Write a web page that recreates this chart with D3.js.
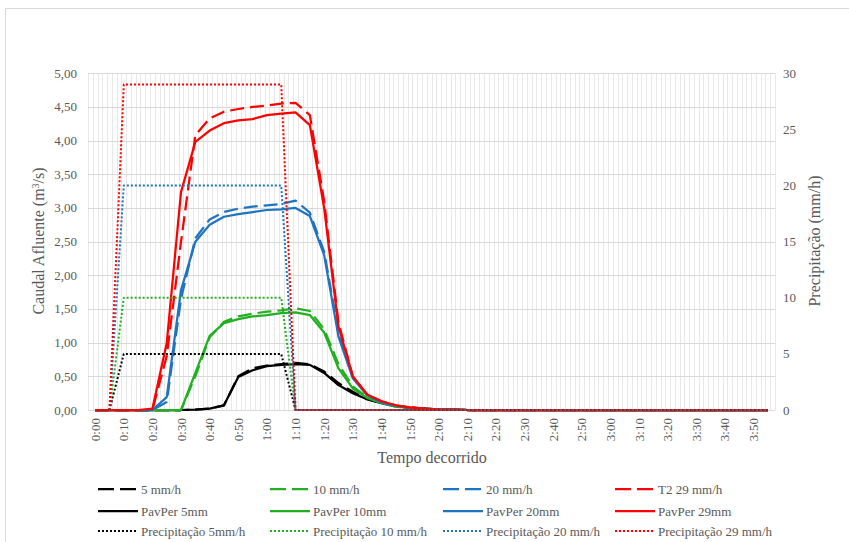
<!DOCTYPE html>
<html>
<head>
<meta charset="utf-8">
<title>Caudal afluente e precipitação</title>
<style>
  body { margin: 0; background: #fff; }
  svg text { font-family: "Liberation Serif", "Times New Roman", serif; fill: #595959; }
</style>
</head>
<body>
<script src="https://cdn.jsdelivr.net/npm/d3@7"></script>
<script>
// data (minutes since start)
var flowTimes = [0, 5, 10, 15, 20, 25, 30, 35, 40, 45, 50, 55, 60, 65, 70, 75, 80, 85, 90, 95, 100, 105, 110, 115, 120, 125, 130, 235];

var dash5   = [0, 0, 0, 0, 0, 0, 0, 0.005, 0.02, 0.07, 0.50, 0.62, 0.66, 0.68, 0.70, 0.68, 0.57, 0.40, 0.27, 0.16, 0.10, 0.06, 0.03, 0.02, 0.01, 0.005, 0, 0];
var dash10  = [0, 0, 0, 0, 0, 0, 0, 0.50, 1.08, 1.31, 1.39, 1.43, 1.46, 1.48, 1.51, 1.47, 1.20, 0.68, 0.35, 0.19, 0.10, 0.05, 0.03, 0.015, 0.008, 0.004, 0, 0];
var dash20  = [0, 0, 0, 0, 0, 0.12, 1.65, 2.55, 2.83, 2.94, 2.99, 3.02, 3.04, 3.06, 3.11, 2.93, 2.35, 1.15, 0.50, 0.23, 0.12, 0.06, 0.03, 0.015, 0.008, 0.004, 0, 0];
var dash29  = [0, 0, 0, 0, 0, 0.80, 2.50, 4.08, 4.33, 4.43, 4.47, 4.50, 4.52, 4.55, 4.56, 4.38, 3.10, 1.30, 0.50, 0.23, 0.13, 0.07, 0.04, 0.02, 0.01, 0.005, 0, 0];

var pav5    = [0, 0, 0, 0, 0, 0, 0, 0.005, 0.02, 0.07, 0.49, 0.59, 0.65, 0.67, 0.68, 0.67, 0.55, 0.37, 0.25, 0.16, 0.10, 0.06, 0.035, 0.02, 0.01, 0.005, 0, 0];
var pav10   = [0, 0, 0, 0, 0, 0, 0, 0.55, 1.10, 1.29, 1.35, 1.39, 1.41, 1.44, 1.45, 1.41, 1.15, 0.62, 0.32, 0.18, 0.10, 0.05, 0.03, 0.015, 0.008, 0.004, 0, 0];
var pav20   = [0, 0, 0, 0, 0, 0.19, 1.78, 2.50, 2.75, 2.87, 2.91, 2.94, 2.97, 2.98, 3.00, 2.88, 2.30, 1.09, 0.47, 0.22, 0.11, 0.06, 0.03, 0.015, 0.008, 0.004, 0, 0];
var pav29   = [0, 0, 0, 0, 0.02, 0.99, 3.24, 3.98, 4.15, 4.26, 4.30, 4.32, 4.38, 4.40, 4.42, 4.23, 3.00, 1.24, 0.50, 0.23, 0.13, 0.07, 0.04, 0.02, 0.01, 0.005, 0, 0];

var precipTimes = [5, 10, 65, 70, 235];
var precip5  = [0, 5, 5, 0, 0];
var precip10 = [0, 10, 10, 0, 0];
var precip20 = [0, 20, 20, 0, 0];
var precip29 = [0, 29, 29, 0, 0];

var xTickLabels = ["0:00","0:10","0:20","0:30","0:40","0:50","1:00","1:10","1:20","1:30","1:40","1:50",
                   "2:00","2:10","2:20","2:30","2:40","2:50","3:00","3:10","3:20","3:30","3:40","3:50"];
var leftTicks = [0, 0.5, 1, 1.5, 2, 2.5, 3, 3.5, 4, 4.5, 5];
var rightTicks = [0, 5, 10, 15, 20, 25, 30];

var black = "#000000", green = "#22b022", blue = "#1f74c0", red = "#ff0000";

// series in drawing order
var series = [
  { name: "5 mm/h",  t: flowTimes, v: dash5,  color: black, style: "dash", axis: "L" },
  { name: "10 mm/h", t: flowTimes, v: dash10, color: green, style: "dash", axis: "L" },
  { name: "20 mm/h", t: flowTimes, v: dash20, color: blue,  style: "dash", axis: "L" },
  { name: "T2 29 mm/h", t: flowTimes, v: dash29, color: red, style: "dash", axis: "L" },
  { name: "PavPer 5mm",  t: flowTimes, v: pav5,  color: black, style: "solid", axis: "L" },
  { name: "PavPer 10mm", t: flowTimes, v: pav10, color: green, style: "solid", axis: "L" },
  { name: "PavPer 20mm", t: flowTimes, v: pav20, color: blue,  style: "solid", axis: "L" },
  { name: "PavPer 29mm", t: flowTimes, v: pav29, color: red,   style: "solid", axis: "L" },
  { name: "Precipitação 5mm/h",   t: precipTimes, v: precip5,  color: black, style: "dot", axis: "R" },
  { name: "Precipitação 10 mm/h", t: precipTimes, v: precip10, color: green, style: "dot", axis: "R" },
  { name: "Precipitação 20 mm/h", t: precipTimes, v: precip20, color: blue,  style: "dot", axis: "R" },
  { name: "Precipitação 29 mm/h", t: precipTimes, v: precip29, color: red,   style: "dot", axis: "R" }
];

var dashes = { dash: "14,6", solid: null, dot: "2,2" };
var widths = { dash: 2.25, solid: 2.25, dot: 2 };

var W = 849, H = 542;
var plotL = 88, plotR = 775, plotT = 73.3, plotB = 410;

var svg = d3.select("body").append("svg").attr("width", W).attr("height", H);

// outer chart frame
svg.append("rect").attr("x", 5.5).attr("y", 8.5).attr("width", 900).attr("height", 600)
   .attr("fill", "none").attr("stroke", "#d9d9d9");

var x = d3.scaleLinear().domain([-2.5, 237.5]).range([plotL, plotR]);
var yL = d3.scaleLinear().domain([0, 5]).range([plotB, plotT]);
var yR = d3.scaleLinear().domain([0, 30]).range([plotB, plotT]);

// vertical gridlines (light)
var vgrid = d3.range(0, 145).map(function (k) { return -2.5 + k * 5 / 3; });
svg.append("g").selectAll("line").data(vgrid).enter().append("line")
   .attr("x1", function (d) { return Math.round(x(d)) + 0.5; })
   .attr("x2", function (d) { return Math.round(x(d)) + 0.5; })
   .attr("y1", plotT).attr("y2", plotB)
   .attr("stroke", "#e8e8e8").attr("stroke-width", 1);

// horizontal gridlines
svg.append("g").selectAll("line").data(leftTicks).enter().append("line")
   .attr("x1", plotL).attr("x2", plotR)
   .attr("y1", function (d) { return Math.round(yL(d)) + 0.5; })
   .attr("y2", function (d) { return Math.round(yL(d)) + 0.5; })
   .attr("stroke", "#d9d9d9").attr("stroke-width", 1);

// left axis labels
var fmt = d3.format(".2f");
svg.append("g").selectAll("text").data(leftTicks).enter().append("text")
   .attr("x", 77).attr("y", function (d) { return yL(d) + 4.5; })
   .attr("text-anchor", "end").attr("font-size", 13)
   .text(function (d) { return fmt(d).replace(".", ","); });

// right axis labels
svg.append("g").selectAll("text").data(rightTicks).enter().append("text")
   .attr("x", 783).attr("y", function (d) { return yR(d) + 4.5; })
   .attr("text-anchor", "start").attr("font-size", 13)
   .text(function (d) { return d; });

// x axis labels, rotated
svg.append("g").selectAll("text").data(xTickLabels).enter().append("text")
   .attr("transform", function (d, i) { return "translate(" + (x(i * 10) + 4.5) + ",418) rotate(-90)"; })
   .attr("text-anchor", "end").attr("font-size", 13)
   .text(function (d) { return d; });

// axis titles
svg.append("text").attr("transform", "translate(44,241) rotate(-90)")
   .attr("text-anchor", "middle").attr("font-size", 16)
   .html("Caudal Afluente (m<tspan baseline-shift='super' font-size='10'>3</tspan>/s)");
svg.append("text").attr("transform", "translate(820,241) rotate(-90)")
   .attr("text-anchor", "middle").attr("font-size", 16)
   .text("Precipitação (mm/h)");
svg.append("text").attr("x", 432).attr("y", 463)
   .attr("text-anchor", "middle").attr("font-size", 16)
   .text("Tempo decorrido");

// series lines
var plot = svg.append("g");
series.forEach(function (s) {
  var yy = s.axis === "L" ? yL : yR;
  var line = d3.line()
    .x(function (d, i) { return x(s.t[i]); })
    .y(function (d) { return yy(d); });
  plot.append("path").datum(s.v)
    .attr("d", line)
    .attr("fill", "none")
    .attr("stroke", s.color)
    .attr("stroke-width", widths[s.style])
    .attr("stroke-dasharray", dashes[s.style])
    .attr("stroke-linejoin", "round");
});

// legend
var legCols = [98, 270, 443, 615];
var legRows = [489, 511, 531];
var legend = svg.append("g");
series.forEach(function (s, i) {
  var cx = legCols[i % 4], cy = legRows[Math.floor(i / 4)];
  legend.append("line")
    .attr("x1", cx).attr("x2", cx + 40).attr("y1", cy).attr("y2", cy)
    .attr("stroke", s.color)
    .attr("stroke-width", widths[s.style])
    .attr("stroke-dasharray", s.style === "dash" ? "16,6" : dashes[s.style]);
  legend.append("text")
    .attr("x", cx + 43).attr("y", cy + 4.5)
    .attr("font-size", 13)
    .text(s.name);
});
</script>
</body>
</html>
